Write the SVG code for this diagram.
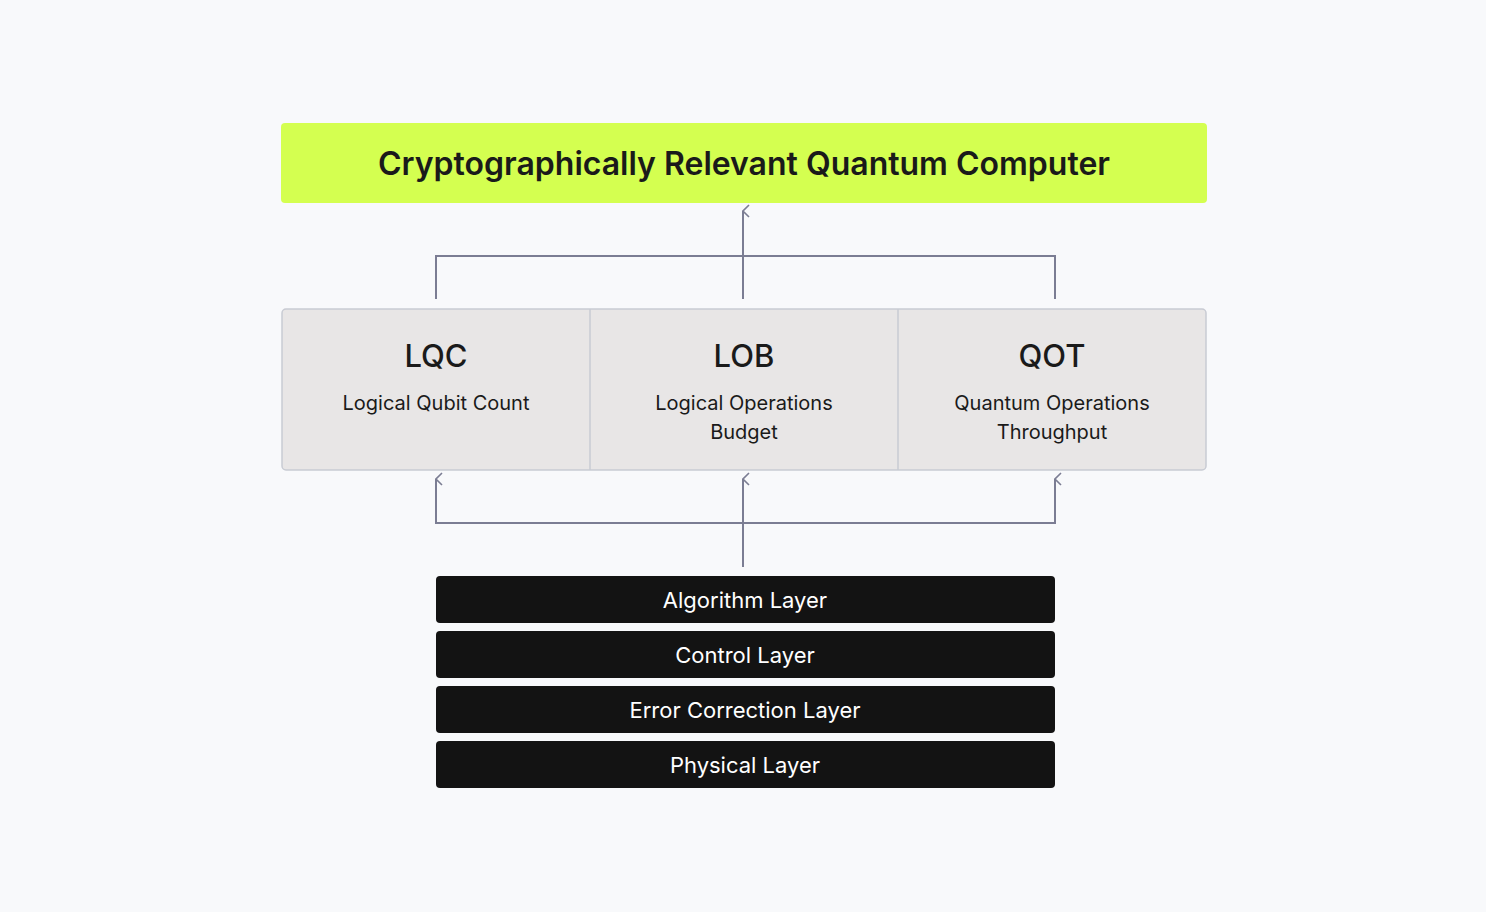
<svg xmlns="http://www.w3.org/2000/svg" width="1486" height="912" viewBox="0 0 1486 912">
<style>
text{font-family:Inter,"Liberation Sans",sans-serif;text-anchor:middle}
.ab{font-size:31px;font-weight:500;fill:#1a1a1a}
.sub{font-size:20px;fill:#1a1a1a}
.bar{fill:#131313}
.bt{font-size:22px;fill:#fff}
.c{stroke:#7b7d93;stroke-width:2;fill:none}
</style>
<defs><marker id="a" markerWidth="14" markerHeight="10" refX="7" refY="1" orient="auto-start-reverse" markerUnits="userSpaceOnUse" viewBox="0 0 14 10"><path d="M1,7 L7,1 L13,7" stroke="#7b7d93" stroke-width="1.6" fill="none"/></marker></defs>
<rect width="1486" height="912" fill="#f8f9fb"/>
<g id="crqc"><rect x="281" y="123" width="926" height="80" rx="4" fill="#d4ff50"/><text x="744" y="175" font-size="32" font-weight="600" fill="#1a1a1a">Cryptographically Relevant Quantum Computer</text></g>
<g id="metrics"><rect x="282" y="309" width="924" height="161" rx="4" fill="#e8e6e6" stroke="#c8cbd3" stroke-width="1.5"/>
<line x1="590" y1="309" x2="590" y2="470" stroke="#c8cbd3" stroke-width="1.5"/><line x1="898" y1="309" x2="898" y2="470" stroke="#c8cbd3" stroke-width="1.5"/></g>
<g id="lqc"><text class="ab" x="436" y="367">LQC</text><text class="sub" x="436" y="410">Logical Qubit Count</text></g>
<g id="lob"><text class="ab" x="744" y="367">LOB</text><text class="sub" x="744" y="410">Logical Operations</text><text class="sub" x="744" y="439">Budget</text></g>
<g id="qot"><text class="ab" x="1052" y="367">QOT</text><text class="sub" x="1052" y="410">Quantum Operations</text><text class="sub" x="1052" y="439">Throughput</text></g>
<g id="connectors">
<path class="c" d="M436,299 V256 H1055 V299"/>
<path class="c" d="M743,299 V211" marker-end="url(#a)"/>
<path class="c" d="M743,567 V479" marker-end="url(#a)"/>
<path class="c" d="M436,479 V523 H1055 V479" marker-start="url(#a)" marker-end="url(#a)"/>
</g>
<g id="algorithm"><rect class="bar" x="436" y="576" width="619" height="47" rx="4"/><text class="bt" x="745" y="608">Algorithm Layer</text></g>
<g id="control"><rect class="bar" x="436" y="631" width="619" height="47" rx="4"/><text class="bt" x="745" y="663">Control Layer</text></g>
<g id="error"><rect class="bar" x="436" y="686" width="619" height="47" rx="4"/><text class="bt" x="745" y="718">Error Correction Layer</text></g>
<g id="physical"><rect class="bar" x="436" y="741" width="619" height="47" rx="4"/><text class="bt" x="745" y="773">Physical Layer</text></g>
</svg>
